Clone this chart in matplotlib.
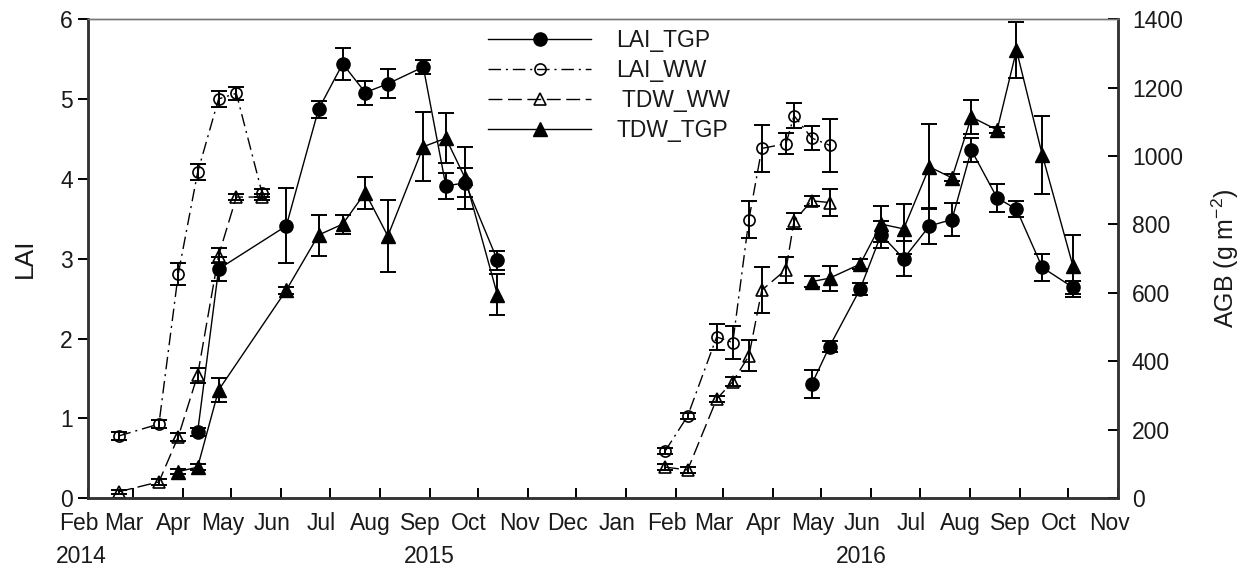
import matplotlib
matplotlib.use("Agg")
import matplotlib.pyplot as plt
import matplotlib.dates as mdates
import matplotlib.transforms as mtransforms
import numpy as np
import pandas as pd

plt.rcParams["font.family"] = ["Liberation Sans", "DejaVu Sans"]
plt.rcParams["mathtext.default"] = "regular"

# ---- data ----
# well-watered (WW) sampling dates, season 1 and 2
ww_dates_1 = ["2015-02-20", "2015-03-17", "2015-03-29", "2015-04-10", "2015-04-23",
              "2015-05-04", "2015-05-20"]
ww_dates_2 = ["2016-01-25", "2016-02-08", "2016-02-26", "2016-03-07", "2016-03-17",
              "2016-03-25", "2016-04-09", "2016-04-14", "2016-04-25", "2016-05-06"]
lai_ww_1 = [0.78, 0.93, 2.81, 4.08, 5.00, 5.07, 3.82]
lai_ww_err_1 = [0.05, 0.05, 0.14, 0.10, 0.10, 0.08, 0.05]
lai_ww_2 = [0.59, 1.03, 2.02, 1.95, 3.49, 4.38, 4.44, 4.79, 4.51, 4.42]
lai_ww_err_2 = [0.04, 0.04, 0.16, 0.21, 0.23, 0.29, 0.13, 0.16, 0.15, 0.33]
tdw_ww_1 = [19, 48, 180, 360, 709, 880, 880]
tdw_ww_err_1 = [5, 8, 12, 22, 22, 8, 10]
tdw_ww_2 = [91, 83, 290, 341, 416, 608, 668, 810, 869, 864]
tdw_ww_err_2 = [8, 8, 10, 12, 45, 68, 38, 23, 15, 40]

# TGP sampling dates
tgp_dates_1 = ["2015-03-29", "2015-04-10", "2015-04-23", "2015-06-04", "2015-06-24",
               "2015-07-09", "2015-07-23", "2015-08-06", "2015-08-28", "2015-09-11",
               "2015-09-23", "2015-10-13"]
tgp_dates_2 = ["2016-04-25", "2016-05-06", "2016-05-25", "2016-06-07", "2016-06-21",
               "2016-07-07", "2016-07-21", "2016-08-02", "2016-08-18", "2016-08-30",
               "2016-09-15", "2016-10-04"]
lai_tgp_1 = [np.nan, 0.83, 2.87, 3.41, 4.87, 5.44, 5.08, 5.19, 5.40, 3.91, 3.95, 2.98]
lai_tgp_err_1 = [np.nan, 0.05, 0.15, 0.47, 0.11, 0.20, 0.15, 0.18, 0.09, 0.16, 0.18, 0.12]
lai_tgp_2 = [1.43, 1.90, 2.62, 3.30, 3.00, 3.41, 3.49, 4.36, 3.76, 3.62, 2.89, 2.64]
lai_tgp_err_2 = [0.17, 0.07, 0.07, 0.17, 0.22, 0.23, 0.21, 0.15, 0.17, 0.10, 0.17, 0.08]
tdw_tgp_1 = [78, 91, 316, 608, 769, 801, 893, 766, 1027, 1052, 935, 594]
tdw_tgp_err_1 = [8, 8, 35, 10, 60, 28, 47, 106, 100, 73, 91, 60]
tdw_tgp_2 = [633, 643, 684, 801, 787, 968, 936, 1114, 1076, 1309, 1003, 679]
tdw_tgp_err_2 = [15, 37, 15, 53, 73, 124, 10, 49, 10, 82, 113, 91]

year_labels = ["2014", "2015", "2016"]
year_label_dates = ["2015-01-28", "2015-09-01", "2016-05-26"]

legend_labels = ["LAI_TGP", "LAI_WW", " TDW_WW", "TDW_TGP"]

# ---- figure ----
fs = 16.5
fig, ax = plt.subplots(figsize=(12.52, 5.77), dpi=100)
fig.subplots_adjust(left=0.0703, right=0.893, bottom=0.1364, top=0.967)
ax2 = ax.twinx()

ebar = dict(fmt="none", ecolor="black", elinewidth=1.4, capsize=6, capthick=1.4)
dashdot = (0, (9, 3.5, 1.5, 3.5))
dashed = (0, (10, 4))

styles = {
    "LAI_TGP": dict(color="black", ls="-", lw=1.0, marker="o", ms=9.5, mfc="black", mec="black"),
    "LAI_WW": dict(color="black", ls=dashdot, lw=1.0, marker="o", ms=8, mfc="none", mec="black", mew=1.2),
    "TDW_WW": dict(color="black", ls=dashed, lw=1.0, marker="^", ms=8, mfc="none", mec="black", mew=1.2),
    "TDW_TGP": dict(color="black", ls="-", lw=1.0, marker="^", ms=10, mfc="black", mec="black"),
}

handles = {}
series = [
    ("LAI_TGP", ax, [(tgp_dates_1, lai_tgp_1, lai_tgp_err_1), (tgp_dates_2, lai_tgp_2, lai_tgp_err_2)]),
    ("LAI_WW", ax, [(ww_dates_1, lai_ww_1, lai_ww_err_1), (ww_dates_2, lai_ww_2, lai_ww_err_2)]),
    ("TDW_WW", ax2, [(ww_dates_1, tdw_ww_1, tdw_ww_err_1), (ww_dates_2, tdw_ww_2, tdw_ww_err_2)]),
    ("TDW_TGP", ax2, [(tgp_dates_1, tdw_tgp_1, tdw_tgp_err_1), (tgp_dates_2, tdw_tgp_2, tdw_tgp_err_2)]),
]
for name, a, seasons in series:
    for d, v, e in seasons:
        d = pd.to_datetime(d)
        a.errorbar(d, v, yerr=e, **ebar)
        line, = a.plot(d, v, **styles[name])
    handles[name] = line

# axes limits / ticks
ax.set_xlim(pd.Timestamp("2015-02-01"), pd.Timestamp("2016-11-01"))
ax.set_ylim(0, 6)
ax2.set_ylim(0, 1400)
ax.set_yticks(np.arange(0, 7, 1))
ax2.set_yticks(np.arange(0, 1401, 200))
ax.xaxis.set_major_locator(mdates.MonthLocator())
ax.xaxis.set_major_formatter(mdates.DateFormatter("%b"))

txtc = "#1a1a1a"
ax.tick_params(axis="x", direction="in", length=7, width=1.4, pad=10, labelsize=fs, labelcolor=txtc)
ax.tick_params(axis="y", direction="out", length=7, width=1.4, pad=4, labelsize=fs, labelcolor=txtc)
ax2.tick_params(axis="y", direction="in", length=7, width=1.4, pad=10, labelsize=fs, labelcolor=txtc)

offset = mtransforms.ScaledTranslation(-9 / 100, 0, fig.dpi_scale_trans)
for lbl in ax.get_xticklabels():
    lbl.set_transform(lbl.get_transform() + offset)

for a in (ax, ax2):
    for s in ("left", "right", "bottom"):
        a.spines[s].set_linewidth(1.8)
        a.spines[s].set_color("#333333")
    a.spines["top"].set_linewidth(1.0)
    a.spines["top"].set_color("#777777")

ax.set_ylabel("LAI", fontsize=19, color=txtc, labelpad=17)
ax2.set_ylabel("AGB (g m$^{-2}$)", fontsize=18, color=txtc, labelpad=19)

for lab, d in zip(year_labels, year_label_dates):
    ax.text(pd.Timestamp(d), -0.122, lab, transform=ax.get_xaxis_transform(),
            ha="center", va="center", fontsize=fs, color=txtc)

fig.legend([handles[k] for k in ["LAI_TGP", "LAI_WW", "TDW_WW", "TDW_TGP"]], legend_labels,
           loc="upper left", bbox_to_anchor=(488 / 1252, 1 - 29 / 577), frameon=False,
           handlelength=4.5, handletextpad=1.1, labelspacing=0.3, borderpad=0,
           borderaxespad=0, numpoints=1, fontsize=fs, labelcolor=txtc)

fig.savefig("out.png", dpi=100)
